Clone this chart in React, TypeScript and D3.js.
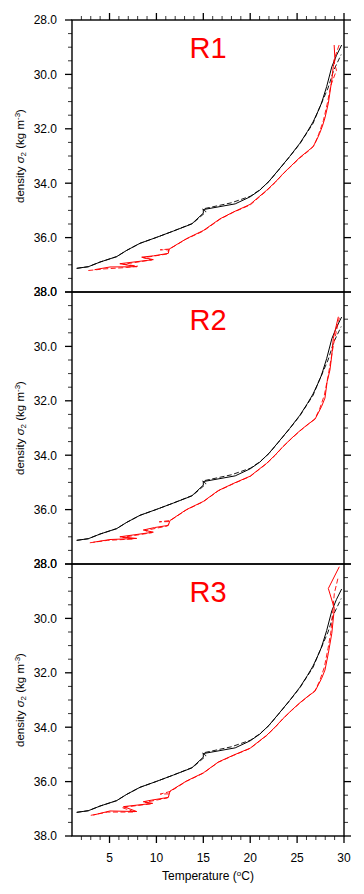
import React from "react";
import * as d3 from "d3";

type P = [number, number];

const panelNames = ["R1", "R2", "R3"];
const xMajorTicks = [5, 10, 15, 20, 25, 30];
const yMajorTicks = [28, 30, 32, 34, 36, 38];

const blackSolid: P[] = [
  [1.5, 37.13], [2.74, 37.07], [3.98, 36.9], [5.76, 36.7], [6.83, 36.47], [8.25, 36.21],
  [10.03, 35.99], [11.8, 35.76], [13.76, 35.5], [15.0, 35.1], [15.0, 34.97], [18.4, 34.76],
  [20.0, 34.5], [21.04, 34.25], [22.0, 33.93], [23.0, 33.52], [24.2, 33.02], [25.3, 32.53],
  [26.1, 32.1], [26.7, 31.75], [27.2, 31.38], [27.6, 31.06], [28.15, 30.45], [28.7, 29.72],
  [29.2, 29.3], [29.75, 28.92],
];
const blackDashed: P[] = [
  [1.5, 37.13], [2.74, 37.07], [3.98, 36.9], [5.76, 36.7], [6.83, 36.47], [8.25, 36.21],
  [10.03, 35.99], [11.8, 35.76], [13.9, 35.47], [15.3, 35.05], [14.9, 34.95], [18.0, 34.72],
  [20.0, 34.48], [21.0, 34.25], [22.0, 33.94], [23.0, 33.53], [24.2, 33.03], [25.3, 32.55],
  [26.1, 32.12], [26.7, 31.8], [27.3, 31.3], [27.8, 30.9], [28.3, 30.5], [28.9, 29.85],
  [29.7, 29.27],
];

const redSolid1: P[] = [
  [3.4, 37.18], [5.05, 37.08], [7.9, 37.07], [6.1, 36.96], [9.67, 36.81], [8.43, 36.72],
  [9.7, 36.67], [11.27, 36.58], [11.37, 36.42], [13.2, 36.04], [15.0, 35.74], [16.78, 35.31],
  [18.2, 35.06], [19.98, 34.78], [21.0, 34.48], [21.75, 34.26], [22.7, 33.95], [23.53, 33.64],
  [24.4, 33.35], [25.3, 33.05], [26.2, 32.8], [26.7, 32.66], [27.1, 32.4], [27.4, 32.17],
  [27.7, 31.9], [27.97, 31.6], [28.33, 31.06], [28.7, 30.2], [28.86, 29.7], [29.04, 29.47],
  [28.95, 28.92],
];
const redDashed1: P[] = [
  [2.74, 37.21], [4.5, 37.15], [6.8, 37.1], [8.0, 37.05], [6.5, 36.98], [9.5, 36.82],
  [8.6, 36.74], [11.2, 36.6], [11.3, 36.45], [10.4, 36.45], [11.4, 36.42], [13.2, 36.05],
  [15.0, 35.76], [16.8, 35.32], [18.2, 35.07], [20.0, 34.8], [21.0, 34.5], [21.75, 34.28],
  [22.7, 33.96], [23.5, 33.66], [24.4, 33.36], [25.3, 33.07], [26.2, 32.82], [26.8, 32.62],
  [27.3, 32.2], [27.8, 31.7], [28.2, 31.1], [28.6, 30.4], [29.2, 29.85], [28.9, 29.5],
  [29.5, 28.9],
];

const redSolid2: P[] = [
  [3.27, 37.2], [5.05, 37.1], [7.9, 37.06], [6.1, 37.0], [9.67, 36.83], [8.6, 36.75],
  [9.8, 36.66], [11.27, 36.58], [11.45, 36.4], [13.2, 36.0], [15.0, 35.7], [16.6, 35.3],
  [18.2, 35.04], [20.0, 34.77], [21.0, 34.5], [21.75, 34.3], [22.7, 33.98], [23.5, 33.68],
  [24.4, 33.38], [25.3, 33.1], [26.2, 32.85], [26.9, 32.68], [27.3, 32.42], [27.62, 32.2],
  [27.97, 31.9], [28.2, 31.3], [28.5, 30.87], [28.68, 30.38], [28.86, 29.7], [29.4, 28.91],
];
const redDashed2: P[] = [
  [2.9, 37.22], [4.8, 37.13], [7.6, 37.08], [6.4, 37.02], [9.5, 36.85], [8.8, 36.77],
  [11.2, 36.6], [11.4, 36.44], [10.3, 36.45], [11.5, 36.4], [13.2, 36.01], [15.0, 35.71],
  [16.6, 35.31], [18.2, 35.05], [20.0, 34.78], [21.0, 34.51], [21.75, 34.31], [22.7, 33.99],
  [23.5, 33.69], [24.4, 33.39], [25.3, 33.11], [26.2, 32.86], [26.9, 32.66], [27.4, 32.3],
  [27.9, 31.8], [28.3, 31.1], [28.6, 30.5], [28.9, 29.9], [29.5, 28.95],
];

const redSolid3: P[] = [
  [3.27, 37.23], [5.05, 37.08], [7.9, 37.1], [6.5, 36.92], [9.6, 36.8], [8.6, 36.74],
  [9.5, 36.68], [11.27, 36.58], [11.45, 36.35], [13.2, 35.98], [15.0, 35.68], [16.6, 35.28],
  [18.2, 35.03], [20.0, 34.77], [21.0, 34.5], [21.75, 34.3], [22.7, 33.98], [23.5, 33.68],
  [24.4, 33.38], [25.3, 33.1], [26.2, 32.85], [26.9, 32.68], [27.3, 32.42], [27.62, 32.2],
  [27.97, 31.9], [28.33, 31.28], [28.7, 30.55], [28.97, 29.63], [28.33, 28.9], [29.5, 28.1],
];
const redDashed3: P[] = [
  [3.0, 37.24], [4.8, 37.12], [7.7, 37.12], [6.3, 36.95], [9.4, 36.82], [8.8, 36.76],
  [11.2, 36.6], [11.3, 36.45], [10.4, 36.46], [11.5, 36.36], [13.2, 35.99], [15.0, 35.69],
  [16.6, 35.29], [18.2, 35.04], [20.0, 34.78], [21.0, 34.51], [21.75, 34.31], [22.7, 33.99],
  [23.5, 33.69], [24.4, 33.39], [25.3, 33.11], [26.2, 32.86], [26.9, 32.66], [27.4, 32.3],
  [27.9, 31.8], [28.3, 31.1], [28.6, 30.5], [28.97, 29.08], [29.4, 28.46],
];

const redSolids = [redSolid1, redSolid2, redSolid3];
const redDasheds = [redDashed1, redDashed2, redDashed3];

const W = 364;
const H = 894;
const left = 72;
const right = 344;
const panelTops = [20, 292, 564];
const panelH = 272;
const FONT = "'Liberation Sans', Arial, Helvetica, sans-serif";

export default function App() {
  const x = d3.scaleLinear().domain([1, 30]).range([left, right]);
  const xMinor = d3.range(2, 31, 1).filter((v) => v % 5 !== 0);
  const yMinor = d3.range(28.5, 38, 0.5).filter((v) => Math.abs(v % 2) > 1e-6);

  return (
    <svg width={W} height={H} style={{ position: "absolute", left: 0, top: 0, background: "#fff" }}>
      {panelTops.map((top, i) => {
        const y = d3.scaleLinear().domain([28, 38]).range([top, top + panelH]);
        const line = d3
          .line<P>()
          .x((d) => x(d[0]))
          .y((d) => y(d[1]));
        const mid = top + panelH / 2;
        return (
          <g key={i}>
            <defs>
              <clipPath id={`clip${i}`}>
                <rect x={left} y={top} width={right - left} height={panelH} />
              </clipPath>
            </defs>
            <g clipPath={`url(#clip${i})`}>
              <path d={line(blackDashed) || ""} fill="none" stroke="#000" strokeWidth={0.9} strokeDasharray="5,2.5" />
              <path d={line(blackSolid) || ""} fill="none" stroke="#000" strokeWidth={1} />
              <path d={line(redDasheds[i]) || ""} fill="none" stroke="#ff0000" strokeWidth={0.9} strokeDasharray="5,2.5" />
              <path d={line(redSolids[i]) || ""} fill="none" stroke="#ff0000" strokeWidth={1} />
            </g>
            <rect x={left} y={top} width={right - left} height={panelH} fill="none" stroke="#000" strokeWidth={1.4} />
            {yMajorTicks.map((t) => (
              <g key={`ym${t}`}>
                <line x1={left - 7} x2={left} y1={y(t)} y2={y(t)} stroke="#000" strokeWidth={1.3} />
                <line x1={right} x2={right + 7} y1={y(t)} y2={y(t)} stroke="#000" strokeWidth={1.3} />
                <text x={57} y={y(t)} dy="0.36em" textAnchor="end" fontFamily={FONT} fontSize={12} fill="#000">
                  {t.toFixed(1)}
                </text>
              </g>
            ))}
            {yMinor.map((t) => (
              <g key={`yn${t}`}>
                <line x1={left - 4} x2={left} y1={y(t)} y2={y(t)} stroke="#000" strokeWidth={0.8} />
                <line x1={right} x2={right + 4} y1={y(t)} y2={y(t)} stroke="#000" strokeWidth={0.8} />
              </g>
            ))}
            <text
              transform={`translate(24,${mid}) rotate(-90)`}
              textAnchor="middle"
              fontFamily={FONT}
              fontSize={11.5}
              fill="#000"
            >
              density <tspan fontStyle="italic">σ</tspan>
              <tspan fontSize={8} dy={2}>2</tspan>
              <tspan dy={-2}> (kg m</tspan>
              <tspan fontSize={8} dy={-4}>-3</tspan>
              <tspan dy={4}>)</tspan>
            </text>
            <text x={208} y={top + 38} textAnchor="middle" fontFamily={FONT} fontSize={29} fill="#ff0000">
              {panelNames[i]}
            </text>
          </g>
        );
      })}
      {xMajorTicks.map((t) => (
        <line key={`xt${t}`} x1={x(t)} x2={x(t)} y1={panelTops[0]} y2={panelTops[0] - 7} stroke="#000" strokeWidth={1.3} />
      ))}
      {xMinor.map((t) => (
        <line key={`xtn${t}`} x1={x(t)} x2={x(t)} y1={panelTops[0]} y2={panelTops[0] - 4} stroke="#000" strokeWidth={0.8} />
      ))}
      {xMajorTicks.map((t) => (
        <g key={`xb${t}`}>
          <line x1={x(t)} x2={x(t)} y1={panelTops[2] + panelH} y2={panelTops[2] + panelH + 7} stroke="#000" strokeWidth={1.3} />
          <text x={x(t)} y={862} textAnchor="middle" fontFamily={FONT} fontSize={12} fill="#000">
            {t}
          </text>
        </g>
      ))}
      {xMinor.map((t) => (
        <line key={`xbn${t}`} x1={x(t)} x2={x(t)} y1={panelTops[2] + panelH} y2={panelTops[2] + panelH + 4} stroke="#000" strokeWidth={0.8} />
      ))}
      <text x={208} y={880} textAnchor="middle" fontFamily={FONT} fontSize={12} fill="#000">
        Temperature (
        <tspan fontSize={8} dy={-4}>o</tspan>
        <tspan dy={4}>C)</tspan>
      </text>
    </svg>
  );
}
